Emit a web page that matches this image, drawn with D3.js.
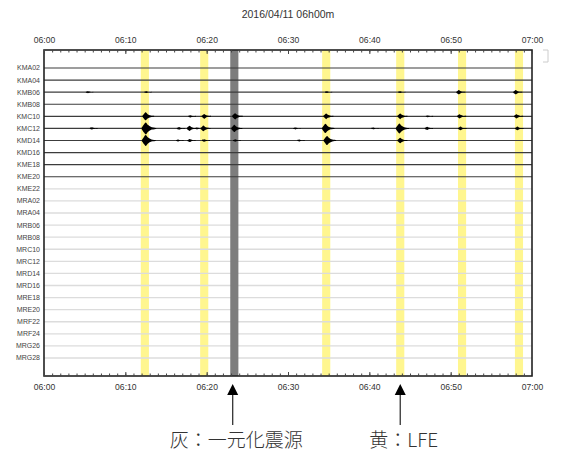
<!DOCTYPE html>
<meta charset="utf-8">
<script src="https://d3js.org/d3.v7.min.js"></script>
<style>
  body { margin: 0; background: #fff; }
  text { font-family: "Liberation Sans", Arial, sans-serif; }
</style>
<div id="my_dataviz"></div>
<script>

// stations, top to bottom (first 10 carry data)
var stations = ["KMA02","KMA04","KMB06","KMB08","KMC10","KMC12","KMD14","KMD16","KME18","KME20",
  "KME22","MRA02","MRA04","MRB06","MRB08","MRC10","MRC12","MRD14","MRD16","MRE18","MRE20",
  "MRF22","MRF24","MRG26","MRG28"];
var activeStations = ["KMA02","KMA04","KMB06","KMB08","KMC10","KMC12","KMD14","KMD16","KME18","KME20"];

// LFE windows (yellow) and the unified-catalogue event (gray), start minute after 06:00
var lfeStart = [11.9, 19.2, 34.2, 43.3, 50.9, 57.9];
var quakeStart = [22.9];
var windowLen = 1.0;

// wave bursts: station, minute, amplitude (half height, px)
var bursts = [
  {sta: "KMB06", t: 5.4,  amp: 1.0},
  {sta: "KMC12", t: 5.9,  amp: 1.2},
  {sta: "KMB06", t: 12.6, amp: 0.8},
  {sta: "KMC10", t: 12.5, amp: 4.0},
  {sta: "KMC12", t: 12.5, amp: 6.0},
  {sta: "KMD14", t: 12.5, amp: 5.5},
  {sta: "KMC12", t: 16.6, amp: 1.3},
  {sta: "KMD14", t: 16.5, amp: 1.0},
  {sta: "KMC10", t: 18.0, amp: 1.2},
  {sta: "KMC12", t: 17.9, amp: 2.6},
  {sta: "KMD14", t: 17.9, amp: 1.6},
  {sta: "KMC12", t: 18.8, amp: 1.0},
  {sta: "KMC10", t: 19.7, amp: 2.4},
  {sta: "KMC12", t: 19.6, amp: 2.8},
  {sta: "KMD14", t: 19.7, amp: 1.3},
  {sta: "KMC10", t: 23.5, amp: 3.2},
  {sta: "KMC12", t: 23.4, amp: 3.6},
  {sta: "KMD14", t: 23.5, amp: 1.2},
  {sta: "KMC12", t: 30.9, amp: 1.0},
  {sta: "KMD14", t: 31.4, amp: 0.9},
  {sta: "KMB06", t: 34.8, amp: 0.8},
  {sta: "KMC10", t: 34.7, amp: 2.8},
  {sta: "KMC12", t: 34.6, amp: 4.6},
  {sta: "KMD14", t: 34.8, amp: 4.6},
  {sta: "KMC12", t: 40.5, amp: 0.9},
  {sta: "KMB06", t: 43.8, amp: 0.8},
  {sta: "KMC10", t: 43.8, amp: 2.8},
  {sta: "KMC12", t: 43.7, amp: 5.0},
  {sta: "KMD14", t: 43.8, amp: 2.8},
  {sta: "KMC10", t: 47.2, amp: 0.9},
  {sta: "KMC12", t: 47.1, amp: 1.6},
  {sta: "KMB06", t: 51.0, amp: 2.2},
  {sta: "KMC10", t: 51.1, amp: 2.2},
  {sta: "KMC12", t: 51.2, amp: 1.8},
  {sta: "KMB06", t: 58.0, amp: 2.2},
  {sta: "KMC10", t: 58.1, amp: 2.2},
  {sta: "KMC12", t: 58.2, amp: 1.8}
];

var title = "2016/04/11 06h00m";
var arrowMinutes = [23.2, 43.8];
var arrowLabels = ["灰：一元化震源", "黄：LFE"];

// dimensions
var margin = {top: 50, right: 30, bottom: 79, left: 44},
    width = 562 - margin.left - margin.right,
    height = 455 - margin.top - margin.bottom;

var svg = d3.select("#my_dataviz")
  .append("svg")
    .attr("width", 562)
    .attr("height", 455)
  .append("g")
    .attr("transform", "translate(" + margin.left + "," + margin.top + ")");

var t0 = Date.UTC(2016, 3, 11, 6, 0);
function toDate(m) { return new Date(t0 + m * 60000); }

var x = d3.scaleUtc()
    .domain([toDate(0), toDate(60)])
    .range([0, width]);

var y = d3.scalePoint()
    .domain(stations)
    .range([18, 308]);

function isActive(d) { return activeStations.indexOf(d) >= 0; }

// yellow windows
svg.selectAll(".lfe")
    .data(lfeStart)
    .enter()
    .append("rect")
      .attr("x", function(d) { return x(toDate(d)); })
      .attr("y", 0)
      .attr("width", function(d) { return x(toDate(d + windowLen)) - x(toDate(d)); })
      .attr("height", height)
      .style("fill", "#fff68f");

// quiet traces (under the gray window)
svg.selectAll(".quiet")
    .data(stations.filter(function(d) { return !isActive(d); }))
    .enter()
    .append("line")
      .attr("x1", 0)
      .attr("x2", width)
      .attr("y1", function(d) { return y(d); })
      .attr("y2", function(d) { return y(d); })
      .style("stroke", "#dcdcdc")
      .style("stroke-width", 1.4);

// gray window
svg.selectAll(".quake")
    .data(quakeStart)
    .enter()
    .append("rect")
      .attr("x", function(d) { return x(toDate(d)); })
      .attr("y", 0)
      .attr("width", function(d) { return x(toDate(d + windowLen)) - x(toDate(d)); })
      .attr("height", height)
      .style("fill", "#7d7d7d");

// active traces
svg.selectAll(".trace")
    .data(activeStations)
    .enter()
    .append("line")
      .attr("x1", 0)
      .attr("x2", width)
      .attr("y1", function(d) { return y(d); })
      .attr("y2", function(d) { return y(d); })
      .style("stroke", "#3c3c3c")
      .style("stroke-width", 1.1);

// burst envelopes
var envelope = d3.area()
    .x(function(p) { return x(toDate(p[0])); })
    .y0(function(p) { return -p[1]; })
    .y1(function(p) { return p[1]; })
    .curve(d3.curveCatmullRom);

svg.selectAll(".burst")
    .data(bursts)
    .enter()
    .append("path")
      .attr("transform", function(d) { return "translate(0," + y(d.sta) + ")"; })
      .attr("d", function(d) {
        var a = d.amp, w = 0.2 + d.amp * 0.05;
        return envelope([[d.t - w, 0.5], [d.t - w * 0.4, a * 0.7], [d.t, a], [d.t + w * 0.6, a * 0.55],
                         [d.t + w * 1.5, a * 0.2], [d.t + w * 2.6, 0.5]]);
      })
      .style("fill", "#000");

// frame
svg.append("rect")
    .attr("width", width)
    .attr("height", height)
    .style("fill", "none")
    .style("stroke", "#222")
    .style("stroke-width", 1.6);

// axes: minor ticks every minute, major every 10
var fmt = d3.utcFormat("%H:%M");
function styleAxis(g) {
  g.select(".domain").remove();
  g.selectAll("line").style("stroke", "#444");
  g.selectAll("text").style("font-size", "8.6px").style("fill", "#333");
}
svg.append("g")
    .call(d3.axisTop(x).ticks(d3.utcMinute.every(1)).tickSize(-2.5).tickFormat(""))
    .call(styleAxis);
svg.append("g")
    .call(d3.axisTop(x).ticks(d3.utcMinute.every(10)).tickSize(-4).tickPadding(7).tickFormat(fmt))
    .call(styleAxis);
svg.append("g")
    .attr("transform", "translate(0," + height + ")")
    .call(d3.axisBottom(x).ticks(d3.utcMinute.every(1)).tickSize(-2.5).tickFormat(""))
    .call(styleAxis);
svg.append("g")
    .attr("transform", "translate(0," + height + ")")
    .call(d3.axisBottom(x).ticks(d3.utcMinute.every(10)).tickSize(-4).tickPadding(8).tickFormat(fmt))
    .call(styleAxis);

// station labels
svg.selectAll(".sta")
    .data(stations)
    .enter()
    .append("text")
      .attr("x", -4)
      .attr("y", function(d) { return y(d); })
      .attr("dy", "0.35em")
      .attr("text-anchor", "end")
      .style("font-size", "7px")
      .style("fill", "#444")
      .text(function(d) { return d; });

// title
svg.append("text")
    .attr("x", width / 2)
    .attr("y", -32)
    .attr("text-anchor", "middle")
    .style("font-size", "10.5px")
    .style("fill", "#333")
    .text(title);

// arrows and notes below the chart
var arrowG = svg.selectAll(".arrow")
    .data(arrowMinutes)
    .enter()
    .append("g")
      .attr("transform", function(d) { return "translate(" + x(toDate(d)) + "," + height + ")"; });
arrowG.append("line")
    .attr("x1", 0).attr("x2", 0)
    .attr("y1", 16).attr("y2", 49)
    .style("stroke", "#333")
    .style("stroke-width", 1.3);
arrowG.append("path")
    .attr("d", "M0,8 L-5.5,19 L5.5,19 Z")
    .style("fill", "#000");

svg.selectAll(".note")
    .data(arrowLabels)
    .enter()
    .append("text")
      .attr("x", function(d, i) { return x(toDate(arrowMinutes[i])) + 3.5; })
      .attr("y", height + 71)
      .attr("text-anchor", "middle")
      .style("font-family", "'Noto Sans CJK JP', sans-serif")
      .style("font-weight", 300)
      .style("font-size", "19px")
      .style("fill", "#333")
      .text(function(d) { return d; });

// faint cropped marks at right edge
svg.append("path")
    .attr("d", "M" + (width + 11) + ",0 h5 v12 h-5")
    .style("fill", "none")
    .style("stroke", "#ccc");
</script>
